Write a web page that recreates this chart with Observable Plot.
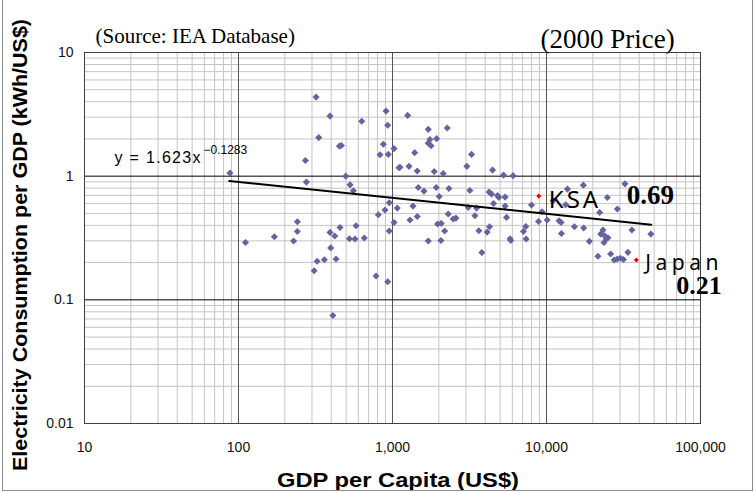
<!DOCTYPE html>
<html><head><meta charset="utf-8">
<script src="https://cdn.jsdelivr.net/npm/d3@7"></script>
<script src="https://cdn.jsdelivr.net/npm/@observablehq/plot@0.6"></script>
<style>
html,body{margin:0;padding:0;background:#fff;}
#chart{position:relative;width:755px;height:492px;overflow:hidden;}
#border{position:absolute;left:2px;top:-2px;width:751px;height:493px;border:1px solid #8c8c8c;box-sizing:border-box;pointer-events:none;}
g[aria-description="ksa-name"] text{letter-spacing:3px;}
g[aria-description="japan-name"] text{letter-spacing:4.5px;}
g[aria-description="equation"] text{letter-spacing:1.3px;}
</style></head><body><div id="chart"><div id="border"></div></div>
<script>
// GDP per capita (US$, 2000 price) for each country
const gdpPerCapita = [
  319, 393, 908, 1254, 631, 931, 332, 452, 466, 872,
  1023, 830, 939, 272, 1102, 1279, 88, 497, 276, 530,
  557, 953, 1074, 894, 809, 1299, 241, 1023, 456, 580,
  241, 393, 422, 953, 171, 111, 228, 525, 571, 656,
  397, 324, 361, 430, 310, 782, 931, 410,
  1707, 2266, 1707, 1750, 1934, 1780, 1393, 3262, 1119, 1448,
  3041, 1866, 2135, 4463, 5259, 6067, 1470, 1601, 1923, 2324,
  2011, 3180, 4243, 4397, 4808, 4902, 5386, 4530, 5386, 1358,
  3100, 3515, 7988, 9359, 13674, 13330, 1448, 2300, 2479, 2581,
  3426, 5499, 8880, 10100, 12060, 12440, 15184, 1963, 2072, 2180,
  3638, 4268, 4117, 7337, 7088, 12502, 1707, 2063, 5801, 5862,
  7370, 3804, 17363, 32300, 24843, 28840, 22145, 11026, 17440, 35860,
  47620, 23264, 22500, 23862, 24475, 23615, 25061, 18983, 21590, 26090,
  27500, 28800, 30200, 31600, 33780
];
// Electricity consumption per GDP (kWh/US$)
const elecPerGdp = [
  4.36, 3.06, 3.36, 3.10, 2.78, 2.58, 2.05, 1.75, 1.77, 1.81,
  1.67, 1.49, 1.50, 1.34, 1.17, 1.20, 1.06, 1.00, 0.895, 0.851,
  0.761, 0.609, 0.552, 0.532, 0.488, 0.442, 0.428, 0.422, 0.385, 0.397,
  0.357, 0.351, 0.328, 0.360, 0.324, 0.291, 0.299, 0.312, 0.310, 0.316,
  0.263, 0.205, 0.211, 0.214, 0.172, 0.156, 0.140, 0.0747,
  2.39, 2.45, 1.85, 1.98, 2.01, 1.76, 1.55, 1.50, 1.18, 1.10,
  1.20, 1.09, 1.05, 1.12, 1.02, 1.01, 0.809, 0.757, 0.809, 0.794,
  0.685, 0.765, 0.743, 0.716, 0.697, 0.672, 0.677, 0.601, 0.573, 0.573,
  0.558, 0.552, 0.584, 0.515, 0.786, 0.587, 0.472, 0.494, 0.450, 0.458,
  0.478, 0.464, 0.430, 0.442, 0.436, 0.422, 0.390, 0.410, 0.415, 0.360,
  0.362, 0.390, 0.353, 0.392, 0.357, 0.344, 0.299, 0.302, 0.312, 0.302,
  0.310, 0.241, 0.846, 0.867, 0.672, 0.542, 0.509, 0.632, 0.381, 0.367,
  0.340, 0.367, 0.340, 0.330, 0.312, 0.291, 0.318, 0.297, 0.225, 0.235,
  0.210, 0.214, 0.217, 0.212, 0.242
];
const highlightNames = ["KSA", "Japan"];
const highlightGdp = [8910, 38300];
const highlightElec = [0.69, 0.21];
const highlightValueLabels = ["0.69", "0.21"];
const trendGdp = [87, 47900];
const trendElec = [0.915, 0.405];
const xTickValues = [10, 100, 1000, 10000, 100000];
const xTickLabels = ["10", "100", "1,000", "10,000", "100,000"];
const yTickValues = [0.01, 0.1, 1, 10];
const yTickLabels = ["0.01", "0.1", "1", "10"];
const equationMain = "y = 1.623x";
const equationExponent = "\u22120.1283";
const sourceText = "(Source: IEA Database)";
const priceText = "(2000 Price)";
const xTitle = "GDP per Capita (US$)";
const yTitle = "Electricity Consumption per GDP (kWh/US$)";

const points = gdpPerCapita.map((x, i) => ({x, y: elecPerGdp[i]}));
const highlights = highlightNames.map((name, i) => ({name, x: highlightGdp[i], y: highlightElec[i], value: highlightValueLabels[i]}));
const trend = trendGdp.map((x, i) => ({x, y: trendElec[i]}));
const minorX = xTickValues.slice(0, -1).flatMap(d => d3.range(2, 10).map(k => d * k));
const minorY = yTickValues.slice(0, -1).flatMap(d => d3.range(2, 10).map(k => d * k));
const ksa = highlights.filter(d => d.name === "KSA");
const japan = highlights.filter(d => d.name === "Japan");

const serif = "Liberation Serif";
const sans = "Liberation Sans";

const chart = Plot.plot({
  width: 755,
  height: 492,
  marginLeft: 84,
  marginRight: 55,
  marginTop: 52,
  marginBottom: 69,
  style: {fontFamily: sans, fontSize: "14px", color: "#000", background: "#fff", overflow: "visible"},
  x: {type: "log", domain: [10, 100000]},
  y: {type: "log", domain: [0.01, 10]},
  marks: [
    Plot.ruleX(minorX, {stroke: "#c4c4c4", strokeWidth: 1}),
    Plot.ruleY(minorY, {stroke: "#c4c4c4", strokeWidth: 1}),
    Plot.ruleX(xTickValues.slice(1, -1), {stroke: "#555", strokeWidth: 1}),
    Plot.ruleY(yTickValues.slice(1, -1), {stroke: "#000", strokeWidth: 1}),
    Plot.frame({stroke: "#404040"}),
    Plot.axisX(xTickValues, {tickSize: 0, tickPadding: 19, fontSize: 14, fill: "#111", label: null,
      tickFormat: d => xTickLabels[xTickValues.indexOf(d)]}),
    Plot.axisY(yTickValues, {tickSize: 0, tickPadding: 11, fontSize: 14, fill: "#111", label: null,
      tickFormat: d => yTickLabels[yTickValues.indexOf(d)]}),
    Plot.dot(points, {x: "x", y: "y", symbol: "diamond2", r: 3.2, fill: "#6464a0", stroke: "none"}),
    Plot.line(trend, {x: "x", y: "y", stroke: "#000", strokeWidth: 2}),
    Plot.dot(highlights, {x: "x", y: "y", symbol: "diamond2", r: 2.3, fill: "#ff0000", stroke: "none"}),
    Plot.text(ksa, {x: "x", y: "y", text: "name", textAnchor: "start", lineAnchor: "bottom", dx: 10, dy: 11.5,
      fontFamily: "Noto Sans", fontSize: 24, fill: "#000", ariaDescription: "ksa-name"}),
    Plot.text(japan, {x: "x", y: "y", text: "name", textAnchor: "start", lineAnchor: "bottom", dx: 9, dy: 10.2,
      fontFamily: "Noto Sans", fontSize: 21, fill: "#000", ariaDescription: "japan-name"}),
    Plot.text(ksa, {x: "x", y: "y", text: "value", textAnchor: "start", lineAnchor: "bottom", dx: 88, dy: 8,
      fontFamily: serif, fontWeight: "bold", fontSize: 27, fill: "#000"}),
    Plot.text(japan, {x: "x", y: "y", text: "value", textAnchor: "start", lineAnchor: "bottom", dx: 40, dy: 34.5,
      fontFamily: serif, fontWeight: "bold", fontSize: 26, fill: "#000"}),
    Plot.text([equationMain], {frameAnchor: "top-left", text: d => d, textAnchor: "start", lineAnchor: "bottom",
      dx: 30, dy: 110, fontFamily: sans, fontSize: 16, fill: "#000", ariaDescription: "equation"}),
    Plot.text([equationExponent], {frameAnchor: "top-left", text: d => d, textAnchor: "start", lineAnchor: "bottom",
      dx: 119, dy: 101, fontFamily: sans, fontSize: 12, fill: "#000"}),
    Plot.text([sourceText], {frameAnchor: "top-left", text: d => d, textAnchor: "start", lineAnchor: "bottom",
      dx: 11, dy: -10, fontFamily: serif, fontSize: 21, fill: "#000"}),
    Plot.text([priceText], {frameAnchor: "top-left", text: d => d, textAnchor: "start", lineAnchor: "bottom",
      dx: 456, dy: -5, fontFamily: serif, fontSize: 27, fill: "#000"})
  ]
});

const svg = d3.select(chart);
svg.append("text")
  .attr("x", 398).attr("y", 487)
  .attr("text-anchor", "middle")
  .attr("font-family", sans).attr("font-weight", "bold").attr("font-size", 20)
  .attr("fill", "#000")
  .attr("textLength", 242).attr("lengthAdjust", "spacingAndGlyphs")
  .text(xTitle);
svg.append("text")
  .attr("transform", "translate(27,245) rotate(-90)")
  .attr("text-anchor", "middle")
  .attr("font-family", sans).attr("font-weight", "bold").attr("font-size", 21)
  .attr("fill", "#000")
  .attr("textLength", 452).attr("lengthAdjust", "spacingAndGlyphs")
  .text(yTitle);

document.getElementById("chart").prepend(chart);
</script>
</body></html>
